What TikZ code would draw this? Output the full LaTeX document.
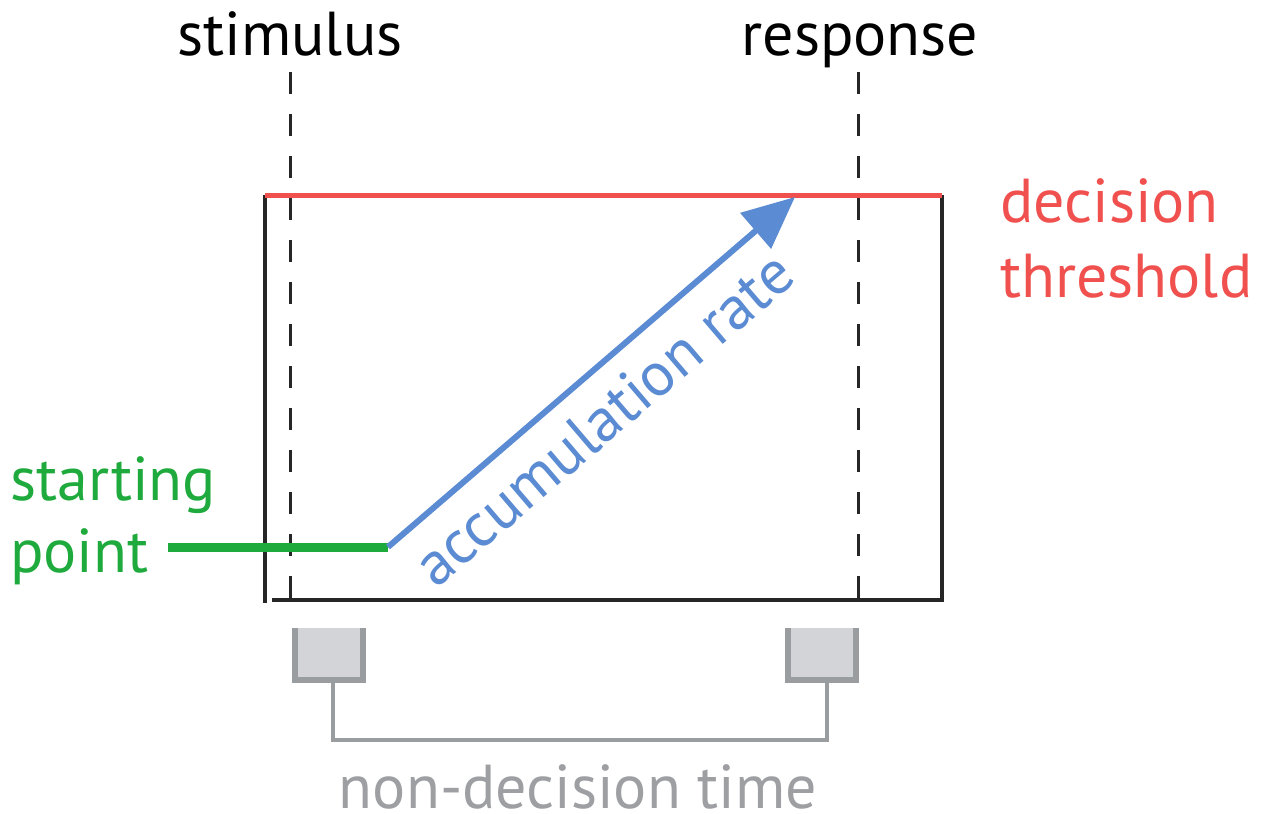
\documentclass[tikz,border=0pt]{standalone}
\usepackage{fontspec}
\setmainfont{PT Sans}
\usetikzlibrary{arrows.meta}
\definecolor{thred}{HTML}{F0504E}
\definecolor{stgreen}{HTML}{1EAA3C}
\definecolor{acblue}{HTML}{5B8BD2}
\definecolor{ndgray}{HTML}{9D9FA2}
\definecolor{boxfill}{HTML}{D2D4D7}
\definecolor{boxedge}{HTML}{9A9DA0}
\begin{document}
\begin{tikzpicture}[x=1pt,y=-1pt,
  lbl/.style={font=\fontsize{62}{68}\selectfont, inner sep=0pt},
  axisline/.style={black!85, line width=3.5pt},
  dashline/.style={black!85, line width=3pt, dash pattern=on 22pt off 20pt},
  ndbox/.style={fill=boxfill, minimum width=68pt, minimum height=52pt, inner sep=0pt},
  ndedge/.style={boxedge, line width=5.5pt},
  ndlink/.style={boxedge, line width=4.5pt}]
\useasboundingbox (0,0) rectangle (1267,814);
\fill[white] (0,0) rectangle (1267,814);
% frame
\coordinate (tl) at (265,195);
\coordinate (bl) at (265,603);
\coordinate (bl2) at (272,600);
\coordinate (br) at (942,600);
\coordinate (tr) at (942,195);
\draw[axisline] (tl) -- (bl);
\draw[axisline] (bl2) -- (br) -- (tr);
% dashed
\coordinate (s1) at (290,72);
\coordinate (s2) at (290,600);
\coordinate (r1) at (858,72);
\coordinate (r2) at (858,600);
\draw[dashline] (s1) -- (s2);
\draw[dashline] (r1) -- (r2);
% threshold
\draw[thred, line width=5pt] (tl) -- (tr);
% starting point
\coordinate (g1) at (168,547);
\coordinate (g2) at (388,547);
\draw[stgreen, line width=9pt] (g1) -- (g2);
% accumulation
\coordinate (a2) at (795,197);
\draw[acblue, line width=6pt, -{Triangle[length=52pt,width=46pt]}] (g2) -- (a2);
% labels
\node[lbl, anchor=base] (stim) at (290,55) {stimulus};
\node[lbl, anchor=base] (resp) at (860,55) {response};
\node[lbl, anchor=base west, text=thred] (dec) at (1000,222) {decision};
\node[lbl, anchor=base west, text=thred] (thr) at (1000,297) {threshold};
\node[lbl, anchor=base west, text=stgreen] (sta) at (10,500) {starting};
\node[lbl, anchor=base west, text=stgreen] (poi) at (10,572) {point};
\node[lbl, anchor=base west, text=acblue, rotate=40.5] (acc) at (436,590) {accumulation rate};
% non-decision time
\node[ndbox] (lb) at (329,654) {};
\node[ndbox] (rb) at (822,654) {};
\draw[ndedge] (lb.north west) -- (lb.south west) -- (lb.south east) -- (lb.north east);
\draw[ndedge] (rb.north west) -- (rb.south west) -- (rb.south east) -- (rb.north east);
\coordinate (c1) at (333,680);
\coordinate (c2) at (827,680);
\draw[ndlink] (c1) -- (333,740) -| (c2);
\node[lbl, anchor=base, text=ndgray, text depth=0pt] (nd) at (578,808) {non-decision time};
\end{tikzpicture}
\end{document}
